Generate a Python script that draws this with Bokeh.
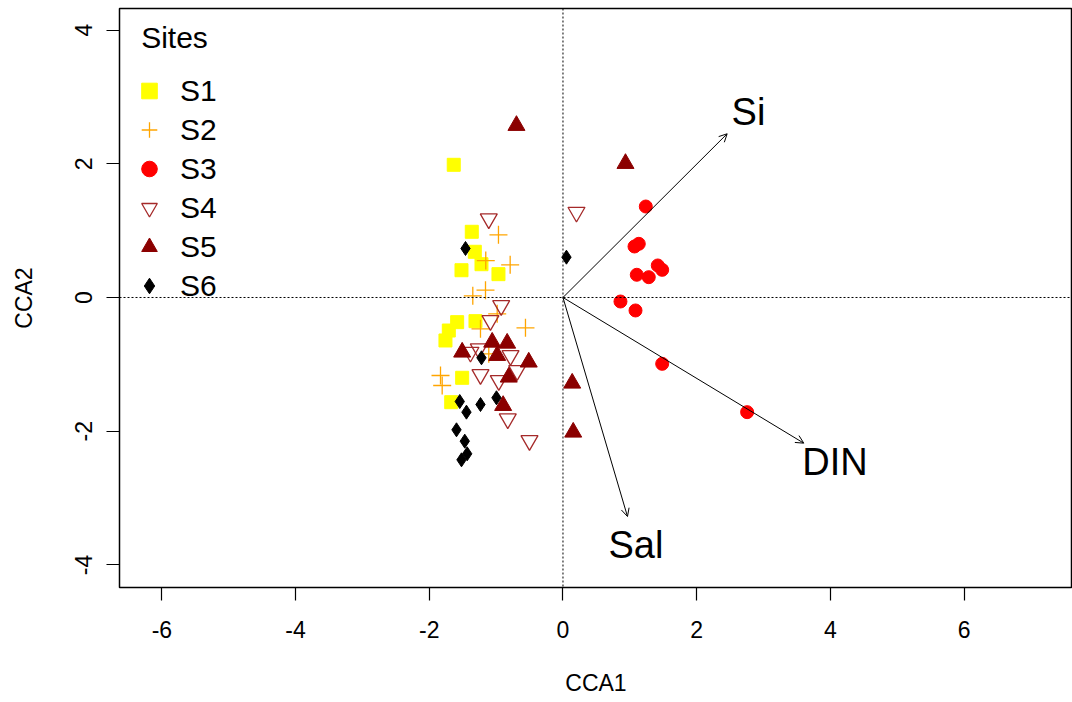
from bokeh.plotting import figure
from bokeh.models import Span, Arrow, OpenHead, Label, Legend, LegendItem, FixedTicker, ColumnDataSource
from bokeh.embed import file_html
from bokeh.resources import INLINE
from bokeh.core.properties import value

FONT = "Liberation Sans"

# ---- data ----
s1_x = [-1.634, -1.364, -1.319, -1.219, -1.518, -0.965, -1.583, -1.309, -1.708, -1.758, -1.508, -1.672]
s1_y = [1.985, 0.983, 0.684, 0.498, 0.408, 0.349, -0.369, -0.354, -0.494, -0.643, -1.201, -1.566]

s2_x = [-0.965, -1.155, -0.790, -1.159, -1.349, -0.984, -0.561, -1.234, -1.110, -1.832, -1.807]
s2_y = [0.938, 0.553, 0.489, 0.109, 0.025, -0.244, -0.453, -0.468, -0.842, -1.167, -1.316]

s3_x = [1.239, 1.070, 1.134, 1.104, 1.283, 1.418, 1.484, 0.860, 1.085, 1.484, 2.755]
s3_y = [1.361, 0.763, 0.803, 0.340, 0.304, 0.479, 0.414, -0.060, -0.194, -0.992, -1.715]

s4_x = [0.202, -1.110, -0.924, -1.085, -1.259, -0.785, -1.234, -0.960, -0.685, -1.384, -0.826, -0.501]
s4_y = [1.276, 1.177, -0.120, -0.344, -0.768, -0.868, -1.152, -1.242, -1.092, -0.818, -1.815, -2.139]

s5_x = [-0.696, 0.935, 0.138, 0.153, -1.508, -1.059, -0.835, -0.984, -0.512, -0.811, -0.895]
s5_y = [2.573, 2.004, -1.282, -2.015, -0.818, -0.669, -0.684, -0.868, -0.967, -1.192, -1.616]

s6_x = [-1.458, 0.052, -1.219, -1.544, -1.444, -1.234, -0.995, -1.593, -1.469, -1.433, -1.518]
s6_y = [0.733, 0.603, -0.902, -1.556, -1.715, -1.601, -1.500, -1.979, -2.149, -2.338, -2.428]

site_names = ["S1", "S2", "S3", "S4", "S5", "S6"]
legend_title = "Sites"

arrow_names = ["Si", "DIN", "Sal"]
arrow_x = [2.456, 3.602, 0.965]
arrow_y = [2.449, -2.179, -3.276]

x_ticks = [-6, -4, -2, 0, 2, 4, 6]
y_ticks = [-4, -2, 0, 2, 4]
x_title = "CCA1"
y_title = "CCA2"

# ---- figure ----
p = figure(width=1072, height=702, output_backend="svg", toolbar_location=None,
           x_range=(-6.634, 7.622), y_range=(-4.338, 4.323),
           min_border_left=119, min_border_right=0, min_border_top=8, min_border_bottom=115)
p.xgrid.visible = False
p.ygrid.visible = False
p.background_fill_color = "white"
p.border_fill_color = "white"
p.outline_line_color = "black"
p.outline_line_width = 1.5

p.xaxis.ticker = FixedTicker(ticks=x_ticks)
p.yaxis.ticker = FixedTicker(ticks=y_ticks)
p.xaxis.major_label_overrides = {t: str(t) for t in x_ticks}
p.yaxis.major_label_overrides = {t: str(t) for t in y_ticks}
p.yaxis.major_label_orientation = "vertical"
for ax in (p.xaxis, p.yaxis):
    ax.axis_line_color = None
    ax.minor_tick_line_color = None
    ax.major_tick_in = 0
    ax.major_tick_out = 13
    ax.major_tick_line_color = "black"
    ax.major_tick_line_width = 1.2
    ax.major_label_text_font = FONT
    ax.major_label_text_font_size = "23px"
    ax.major_label_text_color = "black"
    ax.axis_label_text_font = FONT
    ax.axis_label_text_font_size = "23px"
    ax.axis_label_text_font_style = "normal"
    ax.axis_label_text_color = "black"
p.xaxis.axis_label = x_title
p.yaxis.axis_label = y_title
p.xaxis.major_label_standoff = 20
p.xaxis.axis_label_standoff = 29
p.yaxis.major_label_standoff = 14
p.yaxis.axis_label_standoff = 36

# dotted zero lines
p.add_layout(Span(location=0, dimension="height", line_color="black", line_dash="2 2", line_width=1))
p.add_layout(Span(location=0, dimension="width", line_color="black", line_dash="2 2", line_width=1))

# points
r1 = p.scatter(s1_x, s1_y, marker="square", size=13, fill_color="#FFFF00", line_color="#FFFF00")
r2 = p.scatter(s2_x, s2_y, marker="cross", size=18, line_color="#FFA500", line_width=1.3)
r3 = p.scatter(s3_x, s3_y, marker="circle", size=13, fill_color="#FF0000", line_color="#FF0000")
r4 = p.scatter(s4_x, s4_y, marker="inverted_triangle", size=17, fill_color=None,
               line_color="#A52A2A", line_width=1.3)
r5 = p.scatter(s5_x, s5_y, marker="triangle", size=17, fill_color="#8B0000", line_color="#8B0000")
r6 = p.scatter(s6_x, s6_y, marker="diamond", size=14, fill_color="black", line_color="black")

# biplot arrows
asrc = ColumnDataSource(dict(x0=[0] * len(arrow_x), y0=[0] * len(arrow_y), x1=arrow_x, y1=arrow_y))
p.add_layout(Arrow(source=asrc, x_start="x0", y_start="y0", x_end="x1", y_end="y1",
                   line_color="black", line_width=1,
                   end=OpenHead(size=8, line_color="black", line_width=1)))
lab_x = [v * 1.13 for v in arrow_x]
lab_y = [v * 1.13 for v in arrow_y]
p.text(x=lab_x, y=lab_y, text=arrow_names, text_font=value(FONT), text_font_size="38px",
       text_align="center", text_baseline="middle", text_color="black")

# legend
legend = Legend(items=[LegendItem(label=n, renderers=[r]) for n, r in zip(site_names, [r1, r2, r3, r4, r5, r6])],
                location=(10, 282), orientation="vertical",
                glyph_width=40, glyph_height=39, label_height=39, label_standoff=11,
                spacing=0, padding=0, margin=0,
                label_text_font=FONT, label_text_font_size="30px", label_text_color="black",
                background_fill_alpha=0, border_line_color=None)
p.add_layout(legend)
p.add_layout(Label(x=-6.310, y=3.894, text=legend_title, text_font=FONT, text_font_size="30px",
                   text_align="left", text_baseline="middle", text_color="black"))

open("out.html", "w").write(file_html(p, INLINE))
